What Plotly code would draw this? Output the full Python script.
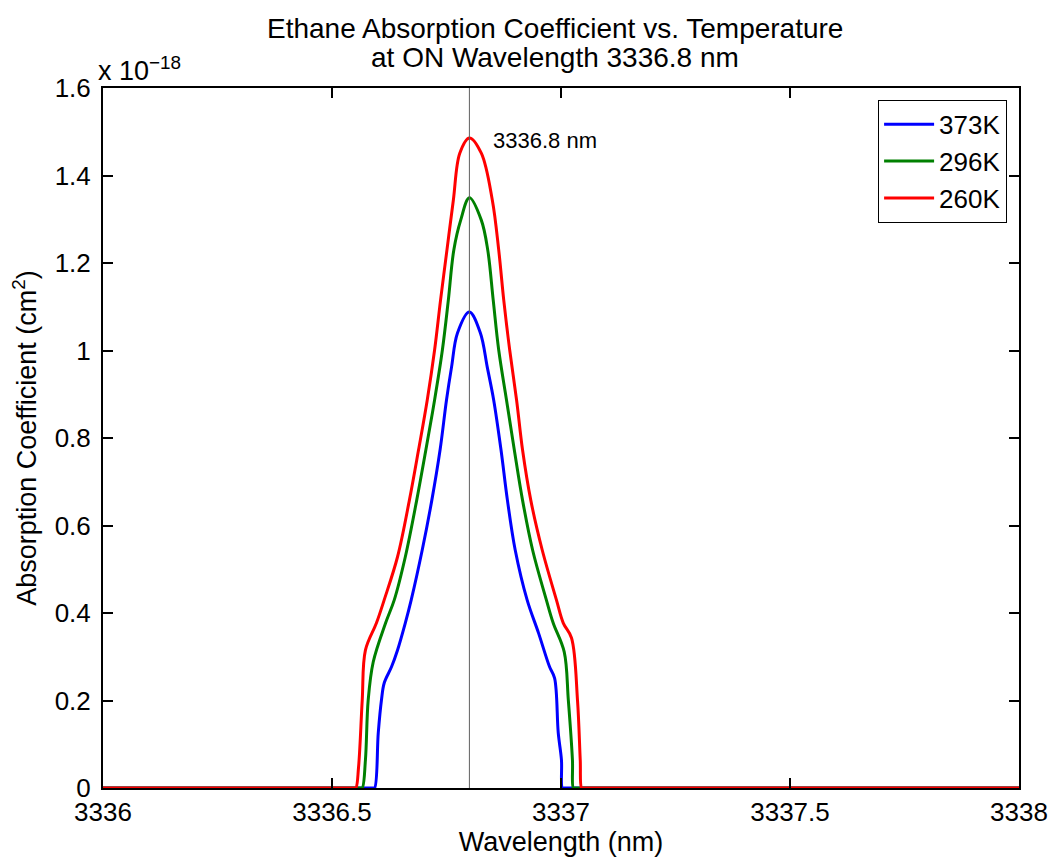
import plotly.graph_objects as go

# Wavelength (nm) and absorption coefficient (units of 1e-18 cm^2)
wl_373 = [3336.0, 3336.589, 3336.593, 3336.601, 3336.608, 3336.614, 3336.630, 3336.643, 3336.660,
          3336.673, 3336.697, 3336.718, 3336.736, 3336.750, 3336.761, 3336.774, 3336.800,
          3336.824, 3336.839, 3336.853, 3336.869, 3336.883, 3336.900, 3336.926, 3336.951,
          3336.975, 3336.986, 3336.994, 3337.001, 3337.003, 3337.007, 3338.0]
abs_373 = [0.0, 0.0, 0.0, 0.126, 0.201, 0.240, 0.277, 0.315, 0.377,
           0.430, 0.544, 0.658, 0.773, 0.887, 0.962, 1.040, 1.088,
           1.040, 0.962, 0.887, 0.773, 0.658, 0.544, 0.430, 0.354,
           0.277, 0.251, 0.126, 0.064, 0.0, 0.0, 0.0]

wl_296 = [3336.0, 3336.562, 3336.566, 3336.573, 3336.579, 3336.590, 3336.617, 3336.636, 3336.660,
          3336.685, 3336.705, 3336.724, 3336.741, 3336.754, 3336.766, 3336.781, 3336.800,
          3336.826, 3336.840, 3336.852, 3336.864, 3336.881, 3336.898, 3336.916, 3336.938,
          3336.968, 3336.983, 3337.007, 3337.016, 3337.025, 3337.027, 3337.031, 3338.0]
abs_296 = [0.0, 0.0, 0.0, 0.064, 0.201, 0.288, 0.377, 0.430, 0.528,
           0.658, 0.773, 0.887, 1.001, 1.115, 1.230, 1.298, 1.349,
           1.298, 1.230, 1.115, 1.001, 0.887, 0.773, 0.658, 0.544,
           0.430, 0.377, 0.311, 0.201, 0.064, 0.0, 0.0, 0.0]

wl_260 = [3336.0, 3336.548, 3336.552, 3336.558, 3336.566, 3336.573, 3336.597, 3336.614, 3336.643,
          3336.669, 3336.689, 3336.708, 3336.724, 3336.737, 3336.751, 3336.765, 3336.779,
          3336.800, 3336.826, 3336.850, 3336.864, 3336.875, 3336.888, 3336.903, 3336.916,
          3336.934, 3336.959, 3336.990, 3337.005, 3337.023, 3337.036, 3337.042, 3337.045, 3337.049,
          3338.0]
abs_260 = [0.0, 0.0, 0.0, 0.048, 0.201, 0.315, 0.377, 0.430, 0.528,
           0.658, 0.773, 0.887, 1.001, 1.115, 1.230, 1.344, 1.451,
           1.486, 1.451, 1.344, 1.230, 1.115, 1.001, 0.887, 0.773,
           0.658, 0.544, 0.430, 0.377, 0.343, 0.201, 0.064, 0.0, 0.0,
           0.0]

series_names = ["373K", "296K", "260K"]
series_colors = ["#0000ff", "#008000", "#ff0000"]

x_ticks = [3336, 3336.5, 3337, 3337.5, 3338]
x_tick_text = ["3336", "3336.5", "3337", "3337.5", "3338"]
y_ticks = [0, 0.2, 0.4, 0.6, 0.8, 1.0, 1.2, 1.4, 1.6]
y_tick_text = ["0", "0.2", "0.4", "0.6", "0.8", "1", "1.2", "1.4", "1.6"]

title_lines = ["Ethane Absorption Coefficient vs. Temperature", "at ON Wavelength 3336.8 nm"]
on_wavelength = 3336.8

FONT = "Liberation Sans, Arial, sans-serif"

fig = go.Figure()
for wl, ab, name, col in zip([wl_373, wl_296, wl_260], [abs_373, abs_296, abs_260],
                             series_names, series_colors):
    fig.add_trace(go.Scatter(x=wl, y=ab, mode="lines", name=name,
                             line=dict(color=col, width=3, shape="spline", smoothing=1)))

fig.add_shape(type="line", x0=on_wavelength, x1=on_wavelength, y0=0, y1=1.6,
              xref="x", yref="y", line=dict(color="#606060", width=1), layer="above")

fig.add_annotation(x=on_wavelength, y=1.48, xref="x", yref="y", text="3336.8 nm",
                   showarrow=False, xanchor="left", yanchor="middle", xshift=22,
                   font=dict(size=22, color="black", family=FONT))

fig.add_annotation(x=0, y=1, xref="paper", yref="paper", text="x 10<sup>\u221218</sup>",
                   showarrow=False, xanchor="left", yanchor="bottom", xshift=-7, yshift=0,
                   font=dict(size=27, color="black", family=FONT))

for line_text, ypix in zip(title_lines, [28, 57]):
    fig.add_annotation(x=0.4934, y=(788 - ypix) / 700, xref="paper", yref="paper",
                       text=line_text, showarrow=False, xanchor="center", yanchor="middle",
                       font=dict(size=28, color="black", family=FONT))

axis_common = dict(showgrid=False, zeroline=False, showline=True, linecolor="black",
                   linewidth=2, mirror="ticks", ticks="inside", ticklen=10, tickwidth=2,
                   tickcolor="black", tickfont=dict(size=26, color="black", family=FONT))

fig.update_xaxes(range=[3336, 3338], tickvals=x_ticks, ticktext=x_tick_text,
                 title=dict(text="Wavelength (nm)", font=dict(size=27, color="black", family=FONT),
                            standoff=0),
                 **axis_common)
fig.update_yaxes(range=[0, 1.6], tickvals=y_ticks, ticktext=y_tick_text, ticklabelstandoff=5,
                 title=dict(text="Absorption Coefficient (cm<sup>2</sup>)",
                            font=dict(size=27, color="black", family=FONT), standoff=10),
                 **axis_common)

fig.update_layout(
    width=1063, height=861,
    margin=dict(l=103, r=44, t=88, b=73),
    paper_bgcolor="white", plot_bgcolor="white",
    font=dict(family=FONT, color="black"),
    legend=dict(x=0.987, y=0.983, xanchor="right", yanchor="top",
                bgcolor="white", bordercolor="black", borderwidth=1, itemwidth=50,
                font=dict(size=26, color="black", family=FONT)),
    showlegend=True,
)

fig.write_html("out.html")
